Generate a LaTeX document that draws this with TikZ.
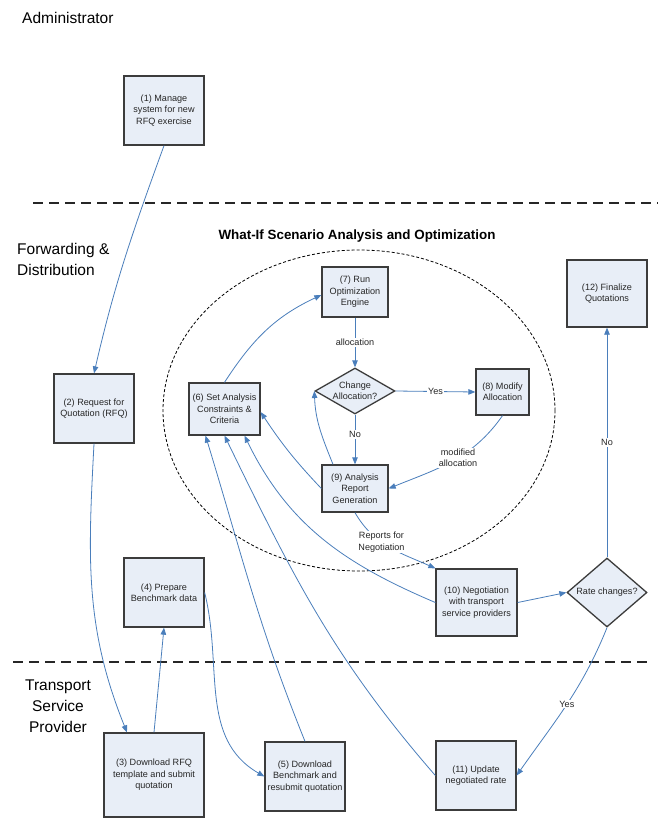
\documentclass[tikz,border=0pt]{standalone}
\usepackage{fontspec}
\setmainfont{Liberation Sans}
\usetikzlibrary{shapes.geometric,arrows.meta}

\definecolor{boxfill}{RGB}{232,238,247}
\definecolor{boxline}{RGB}{60,60,60}
\definecolor{flowblue}{RGB}{74,126,187}

\tikzset{
  stepbox/.style={draw=boxline, fill=boxfill, line width=1.3pt, align=center,
    font=\fontsize{9.1}{11.4}\selectfont, text=black!85, inner sep=1pt},
  choice/.style={diamond, draw=boxline, fill=boxfill, line width=1.3pt, align=center,
    font=\fontsize{9.1}{11.4}\selectfont, text=black!85, inner sep=-2pt},
  flow/.style={draw=flowblue, line width=0.8pt, -{Triangle[length=7pt,width=5.5pt]}},
  flowlabel/.style={fill=white, inner sep=1pt, align=center, text=black!85,
    font=\fontsize{9.1}{11.4}\selectfont},
  lane/.style={font=\fontsize{15.5}{21}\selectfont, inner sep=0pt},
  laneline/.style={line width=2pt, dash pattern=on 10pt off 6pt, black!85},
}

\begin{document}
\begin{tikzpicture}[x=1pt,y=1pt]
  \useasboundingbox (0,0) rectangle (662,-818);

  \node[lane, anchor=west] (admin) at (22,-18) {Administrator};
  \node[lane, anchor=west, align=left] (fwd) at (17,-259) {Forwarding \&\\Distribution};
  \node[lane, align=center] (tsp) at (58,-706) {Transport\\Service\\Provider};
  \draw[laneline] (33,-203) -- (658,-203);
  \draw[laneline] (13,-662) -- (650,-662);

  \node[font=\bfseries\fontsize{13.4}{16}\selectfont] (title) at (357,-236) {What-If Scenario Analysis and Optimization};
  \draw[line width=0.8pt, dash pattern=on 3pt off 2pt] (359,-410.5) ellipse [x radius=196pt, y radius=160.5pt];

  \node[stepbox, minimum width=80pt, minimum height=69pt] (n1) at (164,-110.5) {(1) Manage\\system for new\\RFQ exercise};
  \node[stepbox, minimum width=80pt, minimum height=69pt] (n2) at (94,-408.5) {(2) Request for\\Quotation (RFQ)};
  \node[stepbox, minimum width=100pt, minimum height=84pt] (n3) at (154,-775) {(3) Download RFQ\\template and submit\\quotation};
  \node[stepbox, minimum width=80pt, minimum height=69pt] (n4) at (164,-592.5) {(4) Prepare\\Benchmark data};
  \node[stepbox, minimum width=80pt, minimum height=69pt] (n5) at (305,-776.5) {(5) Download\\Benchmark and\\resubmit quotation};
  \node[stepbox, minimum width=71pt, minimum height=52pt] (n6) at (224.5,-409) {(6) Set Analysis\\Constraints \&\\Criteria};
  \node[stepbox, minimum width=66pt, minimum height=50pt] (n7) at (355,-292) {(7) Run\\Optimization\\Engine};
  \node[choice, aspect=1.7, minimum width=80pt, minimum height=46pt] (d1) at (355,-391) {Change\\Allocation?};
  \node[stepbox, minimum width=53pt, minimum height=46pt] (n8) at (502.5,-392) {(8) Modify\\Allocation};
  \node[stepbox, minimum width=66pt, minimum height=47pt] (n9) at (355,-488.5) {(9) Analysis\\Report\\Generation};
  \node[stepbox, minimum width=81pt, minimum height=67pt] (n10) at (476.5,-602.5) {(10) Negotiation\\with transport\\service providers};
  \node[choice, aspect=1.16, inner sep=0pt, minimum width=80pt, minimum height=69pt] (d2) at (607,-592.5) {Rate changes?};
  \node[stepbox, minimum width=80pt, minimum height=69pt] (n11) at (476,-775.5) {(11) Update\\negotiated rate};
  \node[stepbox, minimum width=80pt, minimum height=67pt] (n12) at (607,-293.5) {(12) Finalize\\Quotations};

  \draw[flow] (n1.south) to[out=-110,in=77] (n2.north);
  \draw[flow] (n2.south) to[out=-93,in=112] ([xshift=-27pt]n3.north);
  \draw[flow] (n3.north) -- (n4.south);
  \draw[flow] (n4.east) to[out=-76,in=150] (n5.west);
  \draw[flow] (n5.north) to[out=112,in=-73] ([xshift=-19pt]n6.south);
  \draw[flow] (n11.west) to[out=131,in=-64] (n6.south);
  \draw[flow] (n10.west) to[out=157,in=-64] ([xshift=20pt]n6.south);
  \draw[flow] (n9.west) to[bend left=5] ([yshift=-3pt]n6.east);
  \draw[flow] (n6.north) to[out=57,in=205] ([yshift=-3pt]n7.west);
  \draw[flow] (n7.south) -- node[flowlabel]{allocation} (d1.north);
  \draw[flow] (d1.east) -- node[flowlabel]{Yes} (n8.west);
  \draw[flow] (d1.south) -- node[flowlabel, pos=0.4]{No} (n9.north);
  \draw[flow] (n8.south) to[out=-125,in=22] node[flowlabel, pos=0.45]{modified\\allocation} (n9.east);
  \draw[flow] ([xshift=-22pt]n9.north) to[out=112,in=-88] (d1.west);
  \draw[flow] (n9.south) to[out=-60,in=156] node[flowlabel, pos=0.4]{Reports for\\Negotiation} (n10.north west);
  \draw[flow] (n10.east) -- (d2.west);
  \draw[flow] (d2.north) -- node[flowlabel]{No} (n12.south);
  \draw[flow] (d2.south) to[out=-112,in=55] node[flowlabel]{Yes} (n11.east);
\end{tikzpicture}
\end{document}
